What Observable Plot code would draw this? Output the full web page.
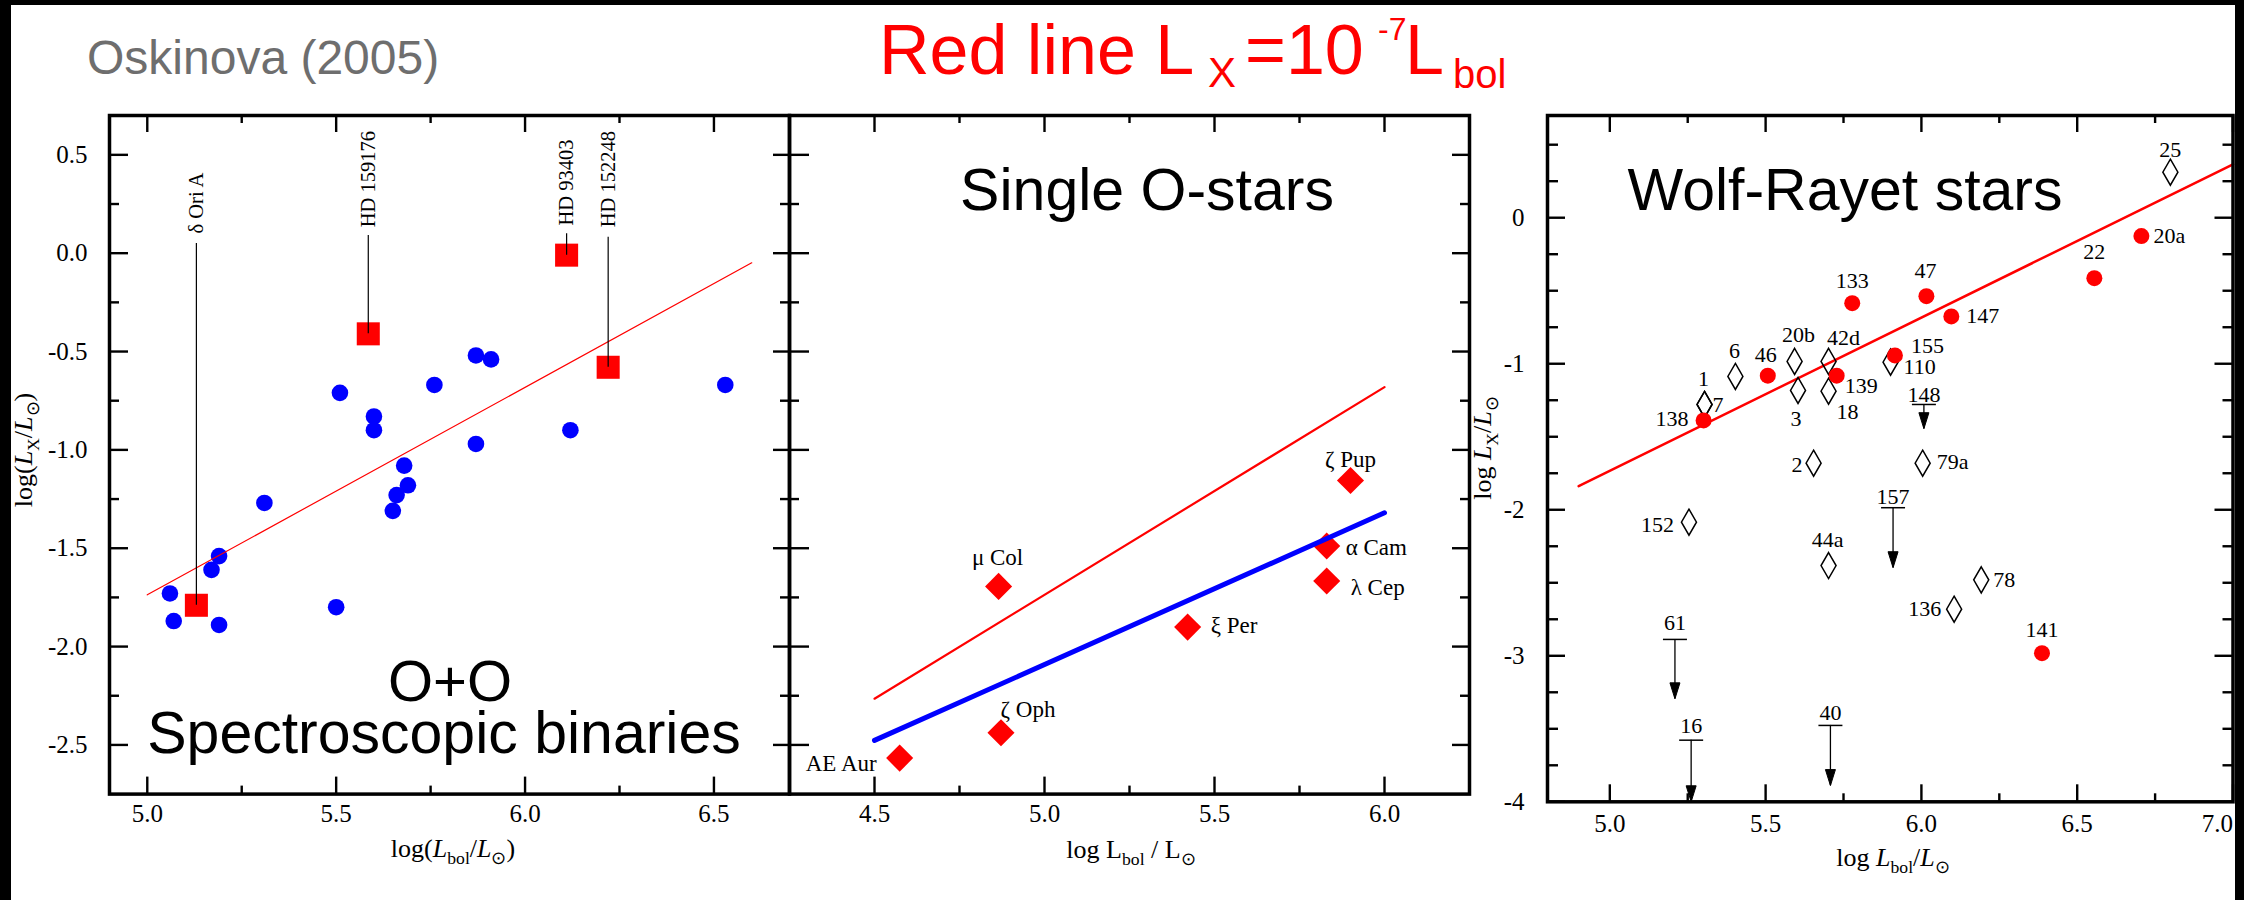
<!DOCTYPE html>
<html>
<head>
<meta charset="utf-8">
<title>Oskinova (2005) – X-ray vs bolometric luminosity</title>
<script src="https://cdn.jsdelivr.net/npm/d3@7"></script>
<script src="https://cdn.jsdelivr.net/npm/@observablehq/plot@0.6"></script>
<style>
html, body { margin:0; padding:0; background:#fff; overflow:hidden; }
#fig { position:relative; width:2244px; height:900px; background:#fff; overflow:hidden; }
#fig > svg { position:absolute; left:0; top:0; }
</style>
</head>
<body>
<div id="fig"></div>
<script>
// ================= DATA =================
// ---- Panel 1: O+O spectroscopic binaries ----
const binBlueLbol = [5.87, 5.91, 5.76, 5.51, 6.53, 5.60, 5.60, 6.12, 5.87, 5.68, 5.69, 5.66, 5.31, 5.65, 5.19, 5.17, 5.06, 5.07, 5.19, 5.50];
const binBlueLx   = [-0.52, -0.54, -0.67, -0.71, -0.67, -0.83, -0.90, -0.90, -0.97, -1.08, -1.18, -1.23, -1.27, -1.31, -1.54, -1.61, -1.73, -1.87, -1.89, -1.80];
const binNamedStars = ["δ Ori A", "HD 159176", "HD 93403", "HD 152248"];
const binNamedLbol  = [5.13, 5.585, 6.11, 6.22];
const binNamedLx    = [-1.79, -0.41, -0.01, -0.58];
const binRedLineLbol = [5.0, 6.6];
const binRedLineLx   = [-1.737, -0.049];
const binXTicks = [5.0, 5.5, 6.0, 6.5];
const binXTickLabels = ["5.0", "5.5", "6.0", "6.5"];
const binXMinorTicks = [5.25, 5.75, 6.25];
const binYTicks = [0.5, 0.0, -0.5, -1.0, -1.5, -2.0, -2.5];
const binYTickLabels = ["0.5", "0.0", "-0.5", "-1.0", "-1.5", "-2.0", "-2.5"];
const binYMinorTicks = [0.25, -0.25, -0.75, -1.25, -1.75, -2.25];

// ---- Panel 2: single O-stars ----
const sglStars = ["AE Aur", "ζ Oph", "μ Col", "ξ Per", "α Cam", "λ Cep", "ζ Pup"];
const sglLbol  = [4.574, 4.872, 4.865, 5.421, 5.830, 5.830, 5.900];
const sglLx    = [-2.567, -2.438, -1.694, -1.901, -1.489, -1.667, -1.156];
const sglRedLineLbol = [4.5, 6.0];
const sglRedLineLx   = [-2.265, -0.681];
const sglFitLineLbol = [4.5, 6.0];
const sglFitLineLx   = [-2.477, -1.320];
const sglXTicks = [4.5, 5.0, 5.5, 6.0];
const sglXTickLabels = ["4.5", "5.0", "5.5", "6.0"];
const sglXMinorTicks = [4.75, 5.25, 5.75];

// ---- Panel 3: Wolf-Rayet stars ----
const wrDetNames = ["20a", "22", "47", "133", "147", "155", "46", "139", "138", "141"];
const wrDetLbol  = [6.706, 6.555, 6.016, 5.778, 6.096, 5.915, 5.507, 5.728, 5.301, 6.387];
const wrDetLx    = [-0.126, -0.414, -0.537, -0.585, -0.676, -0.943, -1.082, -1.082, -1.388, -2.982];
const wrOpenNames = ["25", "20b", "42d", "110", "6", "3", "18", "1", "7", "2", "79a", "152", "44a", "78", "136"];
const wrOpenLbol  = [6.799, 5.593, 5.702, 5.901, 5.403, 5.604, 5.702, 5.304, 5.304, 5.654, 6.004, 5.254, 5.702, 6.192, 6.105];
const wrOpenLx    = [0.312, -0.984, -0.984, -0.989, -1.087, -1.183, -1.188, -1.279, -1.279, -1.681, -1.681, -2.085, -2.382, -2.480, -2.681];
const wrLimNames = ["148", "157", "61", "16", "40"];
const wrLimLbol  = [6.008, 5.909, 5.209, 5.261, 5.708];
const wrLimLx    = [-1.279, -1.986, -2.888, -3.578, -3.477];
const wrLimTo    = [-1.445, -2.397, -3.295, -4.0, -3.889];
const wrRedLineLbol = [4.9, 7.0];
const wrRedLineLx   = [-1.838, 0.365];
const wrXTicks = [5.0, 5.5, 6.0, 6.5, 7.0];
const wrXTickLabels = ["5.0", "5.5", "6.0", "6.5", "7.0"];
const wrXMinorTicks = [5.25, 5.75, 6.25, 6.75];
const wrYTicks = [0, -1, -2, -3, -4];
const wrYTickLabels = ["0", "-1", "-2", "-3", "-4"];
const wrYMinorTicks = [0.5, 0.25, -0.25, -0.5, -0.75, -1.25, -1.5, -1.75, -2.25, -2.5, -2.75, -3.25, -3.5, -3.75];

// ================= ANNOTATION LAYOUT (kept apart from data) =================
const binLeaderTop = [0.049, 0.090, 0.099, 0.081];
const binLabelBase = [0.100, 0.132, 0.141, 0.132];
const sglLabelLayout = [["end",-23,6],["middle",27,-23],["middle",-1,-29],["start",23,-1],["start",19,2],["start",24,7],["middle",0,-21]];
const wrDetLabelLayout = [["start",12,0],["middle",0,-26],["middle",-1,-25],["middle",0,-22],["start",15,0],["start",16,-9],["middle",-2,-21],["start",8,10],["end",-15,-1],["middle",0,-23]];
const wrOpenLabelLayout = [["middle",0,-22],["middle",4,-26],["middle",15,-23],["start",13,5],["middle",-1,-25],["middle",-2,28],["middle",19,21],["middle",-1,-26],["start",8,0],["end",-11,2],["start",14,-1],["end",-15,3],["middle",-1,-26],["start",12,0],["end",-13,0]];
const wrLimLabelLayout = [["middle",0,-10],["middle",0,-11],["middle",0,-16],["middle",0,-14],["middle",0,-12]];

// ================= DRAWING =================
const W = 2244, H = 900;
const SERIF = '"Liberation Serif", "Times New Roman", serif';
const SANS = '"Liberation Sans", Arial, sans-serif';
const RED = "#ff0000", BLUE = "#0000ff";
const TICKFONT = 25;
const fig = document.getElementById("fig");

function boxTicks({xMaj, xMin, yMaj, yMin, fw, fh, L}) {
  const sw = 2.4;
  const tx = (vals, len, bottom) => Plot.tickX(vals, {x: d => d, stroke: "black", strokeWidth: sw, [bottom ? "insetTop" : "insetBottom"]: fh - len});
  const ty = (vals, len, left) => Plot.tickY(vals, {y: d => d, stroke: "black", strokeWidth: sw, [left ? "insetRight" : "insetLeft"]: fw - len});
  return [
    tx(xMaj, L.xMaj, true), tx(xMaj, L.xMaj, false), tx(xMin, L.xMin, true), tx(xMin, L.xMin, false),
    ty(yMaj, L.yMajL, true), ty(yMin, L.yMinL, true), ty(yMaj, L.yMajR, false), ty(yMin, L.yMinR, false)
  ];
}
function labelMarks(xs, ys, names, layout, size) {
  return names.map((_, i) => Plot.text([i], {
    x: j => xs[j], y: j => ys[j], text: j => names[j],
    textAnchor: layout[i][0], dx: layout[i][1], dy: layout[i][2],
    lineAnchor: "middle", fontFamily: SERIF, fontSize: size, fill: "black"
  }));
}
const tickText = {fontFamily: SERIF, fontSize: TICKFONT, fill: "black", lineAnchor: "middle", ariaLabel: "tick-label"};
const idx = a => d3.range(a.length);
const common = {width: W, height: H, style: {background: "transparent", overflow: "visible"}};

// ---- Panel 1 ----
const p1 = {l: 109, r: 789, t: 115, b: 793.6};
const plot1 = Plot.plot({
  ...common,
  marginLeft: p1.l, marginRight: W - p1.r, marginTop: p1.t, marginBottom: H - p1.b,
  x: {domain: [4.9, 6.7], axis: null},
  y: {domain: [-2.75, 0.7], axis: null},
  marks: [
    Plot.dot(idx(binBlueLbol), {x: i => binBlueLbol[i], y: i => binBlueLx[i], r: 8.3, fill: BLUE, stroke: "none"}),
    Plot.dot(idx(binNamedStars), {x: i => binNamedLbol[i], y: i => binNamedLx[i], symbol: "square", r: 13, fill: RED, stroke: "none"}),
    Plot.line(idx(binRedLineLbol), {x: i => binRedLineLbol[i], y: i => binRedLineLx[i], stroke: RED, strokeWidth: 1.2}),
    Plot.ruleX(idx(binNamedStars), {x: i => binNamedLbol[i], y1: i => binNamedLx[i], y2: i => binLeaderTop[i], stroke: "black", strokeWidth: 1.2}),
    Plot.text(idx(binNamedStars), {x: i => binNamedLbol[i], y: i => binLabelBase[i], text: i => binNamedStars[i], rotate: -90, textAnchor: "start", lineAnchor: "middle", fontFamily: SERIF, fontSize: 20.5, fill: "black"}),
    ...boxTicks({xMaj: binXTicks, xMin: binXMinorTicks, yMaj: binYTicks, yMin: binYMinorTicks, fw: p1.r - p1.l, fh: p1.b - p1.t,
      L: {xMaj: 17, xMin: 8, yMajL: 19, yMinL: 10, yMajR: 16, yMinR: 9}}),
    Plot.frame({stroke: "black", strokeWidth: 3.5}),
    Plot.text(idx(binXTicks), {...tickText, x: i => binXTicks[i], text: i => binXTickLabels[i], frameAnchor: "bottom", dy: 20}),
    Plot.text(idx(binYTicks), {...tickText, y: i => binYTicks[i], text: i => binYTickLabels[i], frameAnchor: "left", dx: -22, textAnchor: "end"})
  ]
});
fig.appendChild(plot1);

// ---- Panel 2 ----
const p2 = {l: 789, r: 1469, t: 115, b: 793.6};
const plot2 = Plot.plot({
  ...common,
  marginLeft: p2.l, marginRight: W - p2.r, marginTop: p2.t, marginBottom: H - p2.b,
  x: {domain: [4.25, 6.25], axis: null},
  y: {domain: [-2.75, 0.7], axis: null},
  marks: [
    Plot.dot(idx(sglStars), {x: i => sglLbol[i], y: i => sglLx[i], symbol: "diamond2", r: 12.2, fill: RED, stroke: "none"}),
    Plot.line(idx(sglRedLineLbol), {x: i => sglRedLineLbol[i], y: i => sglRedLineLx[i], stroke: RED, strokeWidth: 2.2}),
    Plot.line(idx(sglFitLineLbol), {x: i => sglFitLineLbol[i], y: i => sglFitLineLx[i], stroke: BLUE, strokeWidth: 5}),
    ...labelMarks(sglLbol, sglLx, sglStars, sglLabelLayout, 23),
    ...boxTicks({xMaj: sglXTicks, xMin: sglXMinorTicks, yMaj: binYTicks, yMin: binYMinorTicks, fw: p2.r - p2.l, fh: p2.b - p2.t,
      L: {xMaj: 17, xMin: 8, yMajL: 20, yMinL: 10, yMajR: 17, yMinR: 9}}),
    Plot.frame({stroke: "black", strokeWidth: 3.5}),
    Plot.text(idx(sglXTicks), {...tickText, x: i => sglXTicks[i], text: i => sglXTickLabels[i], frameAnchor: "bottom", dy: 20})
  ]
});
fig.appendChild(plot2);

// ---- Panel 3 ----
const arrowHead = {draw(ctx) { ctx.moveTo(-5, -16); ctx.lineTo(5, -16); ctx.lineTo(0, 0); ctx.closePath(); }};
const capBar = {draw(ctx) { ctx.moveTo(-12, 0); ctx.lineTo(12, 0); }};
const p3 = {l: 1547, r: 2232.5, t: 115, b: 801.3};
const xMax3 = 7.0;
const plot3 = Plot.plot({
  ...common,
  marginLeft: p3.l, marginRight: W - p3.r, marginTop: p3.t, marginBottom: H - p3.b,
  x: {domain: [4.8, 7.0], axis: null},
  y: {domain: [-4, 0.7], axis: null},
  marks: [
    Plot.line(idx(wrRedLineLbol), {x: i => wrRedLineLbol[i], y: i => wrRedLineLx[i], stroke: RED, strokeWidth: 2.5}),
    Plot.dot(idx(wrOpenNames), {x: i => wrOpenLbol[i], y: i => wrOpenLx[i], symbol: "diamond", r: 7.9, fill: "none", stroke: "black", strokeWidth: 1.5}),
    Plot.dot(idx(wrDetNames), {x: i => wrDetLbol[i], y: i => wrDetLx[i], r: 8, fill: RED, stroke: "none"}),
    Plot.ruleX(idx(wrLimNames), {x: i => wrLimLbol[i], y1: i => wrLimLx[i], y2: i => wrLimTo[i], stroke: "black", strokeWidth: 1.3}),
    Plot.dot(idx(wrLimNames), {x: i => wrLimLbol[i], y: i => wrLimLx[i], symbol: capBar, r: 5, fill: "none", stroke: "black", strokeWidth: 1.5}),
    Plot.dot(idx(wrLimNames), {x: i => wrLimLbol[i], y: i => wrLimTo[i], symbol: arrowHead, r: 5, fill: "black", stroke: "black", strokeWidth: 1}),
    ...labelMarks(wrDetLbol, wrDetLx, wrDetNames, wrDetLabelLayout, 22),
    ...labelMarks(wrOpenLbol, wrOpenLx, wrOpenNames, wrOpenLabelLayout, 22),
    ...labelMarks(wrLimLbol, wrLimLx, wrLimNames, wrLimLabelLayout, 22),
    ...boxTicks({xMaj: wrXTicks, xMin: wrXMinorTicks, yMaj: wrYTicks, yMin: wrYMinorTicks, fw: p3.r - p3.l, fh: p3.b - p3.t,
      L: {xMaj: 17, xMin: 8, yMajL: 18, yMinL: 11, yMajR: 18, yMinR: 10}}),
    Plot.frame({stroke: "black", strokeWidth: 3.5}),
    Plot.text(idx(wrXTicks).filter(i => wrXTicks[i] < xMax3), {...tickText, x: i => wrXTicks[i], text: i => wrXTickLabels[i], frameAnchor: "bottom", dy: 22}),
    Plot.text(idx(wrXTicks).filter(i => wrXTicks[i] >= xMax3), {...tickText, x: i => wrXTicks[i], text: i => wrXTickLabels[i], frameAnchor: "bottom", dy: 22, textAnchor: "end"}),
    Plot.text(idx(wrYTicks), {...tickText, y: i => wrYTicks[i], text: i => wrYTickLabels[i], frameAnchor: "left", dx: -23, textAnchor: "end"})
  ]
});
fig.appendChild(plot3);

// The reference's numerals are set wider than Times; widen tick labels slightly around their anchor.
for (const svg of [plot1, plot2, plot3]) {
  d3.select(svg).selectAll('g[aria-label="tick-label"] text').each(function () {
    const el = this;
    const tr = el.getAttribute("transform");
    if (tr) {
      el.setAttribute("transform", tr + " scale(1.18,1)");
    } else {
      const x = +el.getAttribute("x") || 0, y = +el.getAttribute("y") || 0;
      el.removeAttribute("x"); el.removeAttribute("y");
      el.setAttribute("transform", `translate(${x},${y}) scale(1.18,1)`);
    }
  });
}

// ================= TITLES, AXIS LABELS, BORDER =================
const ov = d3.create("svg").attr("width", W).attr("height", H).attr("viewBox", `0 0 ${W} ${H}`);
ov.append("rect").attr("x", 0).attr("y", 0).attr("width", W).attr("height", 5).attr("fill", "black");
ov.append("rect").attr("x", 0).attr("y", 0).attr("width", 11).attr("height", H).attr("fill", "black");
ov.append("rect").attr("x", 2235).attr("y", 0).attr("width", 9).attr("height", H).attr("fill", "black");

function rich(x, y, parts, {size, family = SERIF, fill = "black", anchor = "middle", rotate = 0}) {
  const t = ov.append("text")
    .attr("transform", `translate(${x},${y}) rotate(${rotate})`)
    .attr("font-family", family).attr("font-size", size).attr("fill", fill).attr("text-anchor", anchor);
  let shift = 0;
  for (const p of parts) {
    const target = p.sub ? size * 0.28 : p.sup ? -size * 0.42 : 0;
    const ts = t.append("tspan").text(p.t).attr("dy", target - shift)
      .attr("font-size", (p.sub || p.sup) ? size * 0.68 : size);
    if (p.it) ts.attr("font-style", "italic");
    shift = target;
  }
  return t;
}
// Figure titles
ov.append("text").attr("x", 87).attr("y", 74).attr("font-family", SANS).attr("font-size", 48).attr("fill", "#6e6e6e").text("Oskinova (2005)");
const rt = ov.append("text").attr("font-family", SANS).attr("fill", RED);
[["Red line L", 879, 74, 70], ["X", 1208, 87, 42], ["=10", 1245, 74, 70], ["-7", 1378, 40, 32], ["L", 1405, 74, 70], ["bol", 1453, 88, 40]]
  .forEach(([s, x, y, fs]) => rt.append("tspan").attr("x", x).attr("y", y).attr("font-size", fs).text(s));

// Panel headings
rich(450, 701, [{t: "O+O"}], {size: 58, family: SANS});
rich(444, 753, [{t: "Spectroscopic binaries"}], {size: 59, family: SANS});
rich(1147, 210, [{t: "Single O-stars"}], {size: 59, family: SANS});
rich(1845, 210, [{t: "Wolf-Rayet stars"}], {size: 59, family: SANS});

// Axis labels
rich(453, 857, [{t: "log("}, {t: "L", it: 1}, {t: "bol", sub: 1}, {t: "/"}, {t: "L", it: 1}, {t: "⊙", sub: 1}, {t: ")"}], {size: 26});
rich(1131, 858, [{t: "log L"}, {t: "bol", sub: 1}, {t: " / L"}, {t: "⊙", sub: 1}], {size: 26});
rich(1893, 866, [{t: "log "}, {t: "L", it: 1}, {t: "bol", sub: 1}, {t: "/"}, {t: "L", it: 1}, {t: "⊙", sub: 1}], {size: 26});
rich(32, 450, [{t: "log("}, {t: "L", it: 1}, {t: "X", sub: 1}, {t: "/"}, {t: "L", it: 1}, {t: "⊙", sub: 1}, {t: ")"}], {size: 26, rotate: -90});
rich(1491, 448, [{t: "log "}, {t: "L", it: 1}, {t: "X", sub: 1}, {t: "/"}, {t: "L", it: 1}, {t: "⊙", sub: 1}], {size: 26, rotate: -90});

fig.appendChild(ov.node());
</script>
</body>
</html>
